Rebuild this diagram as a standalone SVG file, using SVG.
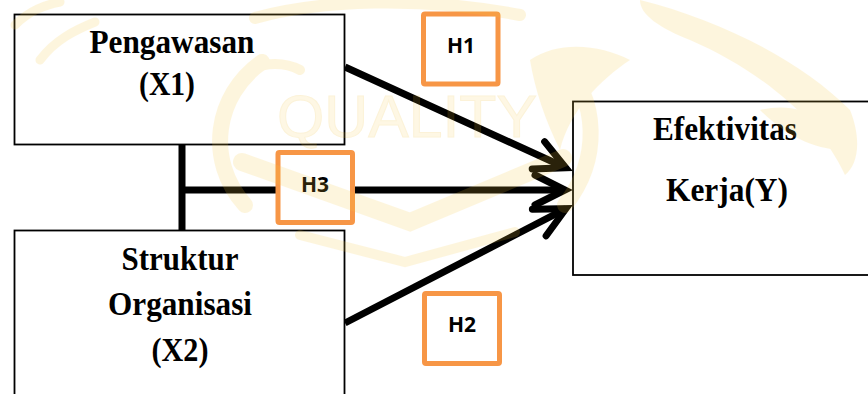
<svg xmlns="http://www.w3.org/2000/svg" width="868" height="394" viewBox="0 0 868 394">
  <style>
    .node { fill: #ffffff; stroke: #000000; stroke-width: 1.8; }
    .label { font-family: "Liberation Serif", "Times New Roman", serif; font-weight: bold; font-size: 34px; fill: #000000; text-anchor: middle; }
    .hyp rect { fill: #ffffff; stroke: #F79646; stroke-width: 5; }
    .hyp text { font-family: "Open Sans", "Liberation Sans", sans-serif; font-weight: bold; font-size: 21px; fill: #000000; text-anchor: middle; }
    .wire { fill: none; stroke: #000000; stroke-width: 7; }
    .wm { fill: none; stroke: #F9C93C; stroke-linecap: round; }
  </style>
  <defs>
    <marker id="chevron" markerUnits="userSpaceOnUse" viewBox="-40 -22 50 44" refX="0" refY="0" markerWidth="50" markerHeight="44" orient="auto" overflow="visible">
      <path d="M-30,-15 L0,0 L-30,15" fill="none" stroke="#000000" stroke-width="7" stroke-linecap="round" stroke-linejoin="miter"/>
    </marker>
  </defs>

  <rect width="868" height="394" fill="#ffffff"/>

  <!-- connectors -->
  <g id="connectors">
    <path class="wire" d="M182,144 L182,230"/>
    <path class="wire" d="M182,190 L565,190" marker-end="url(#chevron)"/>
    <path class="wire" d="M345,67 L565.7,167.7" marker-end="url(#chevron)"/>
    <path class="wire" d="M345,323 L565.9,208.7" marker-end="url(#chevron)"/>
  </g>

  <!-- variables -->
  <g id="x1">
    <rect class="node" x="14.5" y="14.5" width="330" height="130"/>
    <text class="label" x="172" y="53" textLength="165" lengthAdjust="spacingAndGlyphs">Pengawasan</text>
    <text class="label" x="167" y="95" textLength="56" lengthAdjust="spacingAndGlyphs">(X1)</text>
  </g>
  <g id="x2">
    <rect class="node" x="14.5" y="230.5" width="330" height="200"/>
    <text class="label" x="180" y="270" textLength="117" lengthAdjust="spacingAndGlyphs">Struktur</text>
    <text class="label" x="180" y="315" textLength="144" lengthAdjust="spacingAndGlyphs">Organisasi</text>
    <text class="label" x="180" y="361" textLength="57" lengthAdjust="spacingAndGlyphs">(X2)</text>
  </g>
  <g id="y">
    <rect class="node" x="573" y="101.5" width="320" height="173.5"/>
    <text class="label" x="725" y="140" textLength="144" lengthAdjust="spacingAndGlyphs">Efektivitas</text>
    <text class="label" x="727" y="201" textLength="122" lengthAdjust="spacingAndGlyphs">Kerja(Y)</text>
  </g>

  <!-- hypothesis labels -->
  <g id="h1" class="hyp">
    <rect x="423.5" y="14" width="74.5" height="70" rx="1.5"/>
    <text x="461" y="53">H1</text>
  </g>
  <g id="h3" class="hyp">
    <rect x="278" y="152.5" width="74.5" height="70" rx="1.5"/>
    <text x="315" y="192">H3</text>
  </g>
  <g id="h2" class="hyp">
    <rect x="424.5" y="293.5" width="75" height="70" rx="1.5"/>
    <text x="462" y="332">H2</text>
  </g>

  <!-- faint emblem laid over the whole sheet -->
  <g id="watermark" opacity="0.17">
    <path class="wm" stroke-width="16" d="M262,62 C215,95 205,160 245,205"/>
    <path class="wm" stroke-width="16" d="M560,60 C600,100 600,160 565,205"/>
    <path class="wm" stroke-width="12" d="M255,18 C320,0 420,-4 520,15"/>
    <path class="wm" stroke-width="18" d="M242,162 L410,222 L563,158"/>
    <path class="wm" stroke-width="10" d="M300,235 L405,262 L515,232"/>
    <path class="wm" stroke-width="9" d="M15,25 C30,10 45,5 60,2"/>
    <path class="wm" stroke-width="9" d="M40,60 C55,40 75,30 95,22"/>
    <path class="wm" stroke-width="10" d="M250,70 C265,62 285,62 300,70"/>
    <path fill="#F9C93C" d="M640,0 C720,20 800,60 850,110 C862,140 858,165 845,175 C820,120 760,70 690,40 C660,28 640,15 640,0 Z"/>
    <path fill="#F9C93C" d="M530,60 C560,40 600,45 630,60 C600,80 570,110 560,150 C545,120 535,90 530,60 Z"/>
    <path fill="#F9C93C" d="M760,110 C800,100 830,120 845,150 C820,150 790,140 760,110 Z"/>
    <text x="407" y="137" font-family="'Liberation Sans', Arial, sans-serif" font-size="60" textLength="260" lengthAdjust="spacingAndGlyphs" text-anchor="middle" fill="#F9C93C" fill-opacity="0.8" stroke="#F0B820" stroke-width="1">QUALITY</text>
  </g>
</svg>
